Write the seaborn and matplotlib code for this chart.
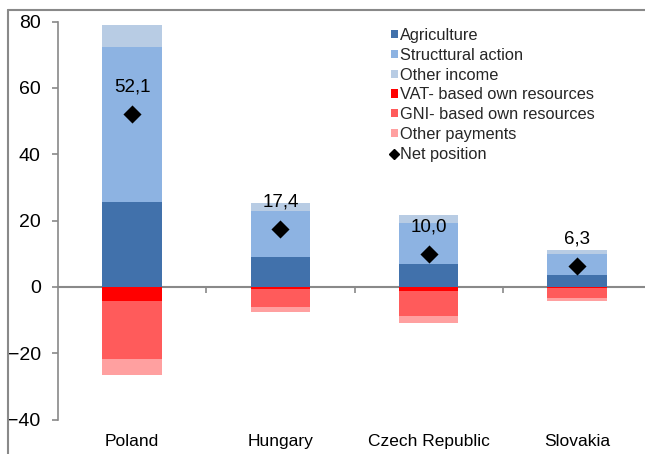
import numpy as np
import pandas as pd
import matplotlib
matplotlib.use("Agg")
import matplotlib.pyplot as plt
import seaborn as sns
from matplotlib.patches import Patch
from matplotlib.lines import Line2D

countries = ["Poland", "Hungary", "Czech Republic", "Slovakia"]
agriculture = [25.7, 9.1, 6.8, 3.7]
structural = [46.6, 13.9, 12.6, 6.2]
other_income = [6.6, 2.2, 2.2, 1.2]
vat_resources = [-4.2, -0.6, -1.2, -0.2]
gni_resources = [-17.6, -5.4, -7.5, -3.0]
other_payments = [-4.8, -1.6, -2.2, -1.2]
net_position = [52.1, 17.4, 10.0, 6.3]
yticks = [-40, -20, 0, 20, 40, 60, 80]

legend_labels = ["Agriculture", "Structtural action", "Other income",
                 "VAT- based own resources", "GNI- based own resources",
                 "Other payments", "Net position"]
colors = ["#4171AB", "#8DB3E2", "#B8CCE4", "#FF0000", "#FF5B5B", "#FFA0A0"]
GRAY = "#898989"

sns.set_theme(style="white")
plt.rcParams["font.family"] = ["Liberation Sans", "DejaVu Sans"]

fig = plt.figure(figsize=(6.45, 4.54), dpi=100)
ax = fig.add_axes([58 / 645, 1 - 419.5 / 454, 593 / 645, 397.8 / 454])

df = pd.DataFrame({
    "country": countries,
    "agri": agriculture,
    "struct": structural,
    "oinc": other_income,
    "vat": vat_resources,
    "gni": gni_resources,
    "opay": other_payments,
    "net": net_position,
})

# stacked layers: draw cumulative totals from outermost to innermost
pos_layers = [
    (df["agri"] + df["struct"] + df["oinc"], colors[2]),
    (df["agri"] + df["struct"], colors[1]),
    (df["agri"], colors[0]),
]
neg_layers = [
    (df["vat"] + df["gni"] + df["opay"], colors[5]),
    (df["vat"] + df["gni"], colors[4]),
    (df["vat"], colors[3]),
]
for vals, col in pos_layers + neg_layers:
    sns.barplot(x=df["country"], y=vals, color=col, saturation=1, width=0.4,
                linewidth=0, edgecolor="none", ax=ax, order=countries)

sns.scatterplot(x=df["country"], y=df["net"], marker="D", s=85, color="black",
                edgecolor="black", linewidth=0, ax=ax, zorder=5)

for i, v in enumerate(net_position):
    ax.annotate(f"{v:.1f}".replace(".", ","), (i, v), xytext=(0, 19.5),
                textcoords="offset points", ha="center", va="center",
                fontsize=13.5, color="black")

ax.set_xlim(-0.5, 3.5)
ax.set_ylim(-40, 80)
ax.set_yticks(yticks)
ax.set_xlabel("")
ax.set_ylabel("")
for s in ["top", "right", "bottom"]:
    ax.spines[s].set_visible(False)
ax.spines["left"].set_color(GRAY)
ax.spines["left"].set_linewidth(1.2)
ax.tick_params(axis="y", direction="out", length=4.5, width=1.2, color=GRAY,
               labelsize=14, pad=8, left=True, labelcolor="black")
ax.tick_params(axis="x", length=0, labelsize=12.5, pad=10.5, labelcolor="black")

# zero line with category boundary ticks
sec = ax.secondary_xaxis(40 / 120)
sec.set_xticks([0.5, 1.5, 2.5], labels=["", "", ""])
sec.tick_params(axis="x", direction="out", length=4, width=1.2, color=GRAY)
sec.spines["bottom"].set_color(GRAY)
sec.spines["bottom"].set_linewidth(1.5)
for s in ["top", "left", "right"]:
    if s in sec.spines:
        sec.spines[s].set_visible(False)

handles = [Patch(facecolor=c, edgecolor="none") for c in colors]
handles.append(Line2D([], [], marker="D", color="black", linestyle="none",
                      markersize=5))
leg = fig.legend(handles, legend_labels, loc="upper left",
                 bbox_to_anchor=(391 / 645, 1 - 28 / 454),
                 frameon=False, fontsize=11.8, handlelength=0.4,
                 handleheight=0.4, handletextpad=0.12, labelspacing=0.29,
                 borderpad=0, borderaxespad=0)

# outer frame (left and top edges visible)
fig.add_artist(Line2D([8 / 645, 8 / 645], [0, 1 - 10 / 454], color=GRAY,
                      linewidth=1.5, transform=fig.transFigure))
fig.add_artist(Line2D([8 / 645, 1], [1 - 10 / 454, 1 - 10 / 454], color=GRAY,
                      linewidth=1.5, transform=fig.transFigure))

fig.savefig("out.png", dpi=100)
